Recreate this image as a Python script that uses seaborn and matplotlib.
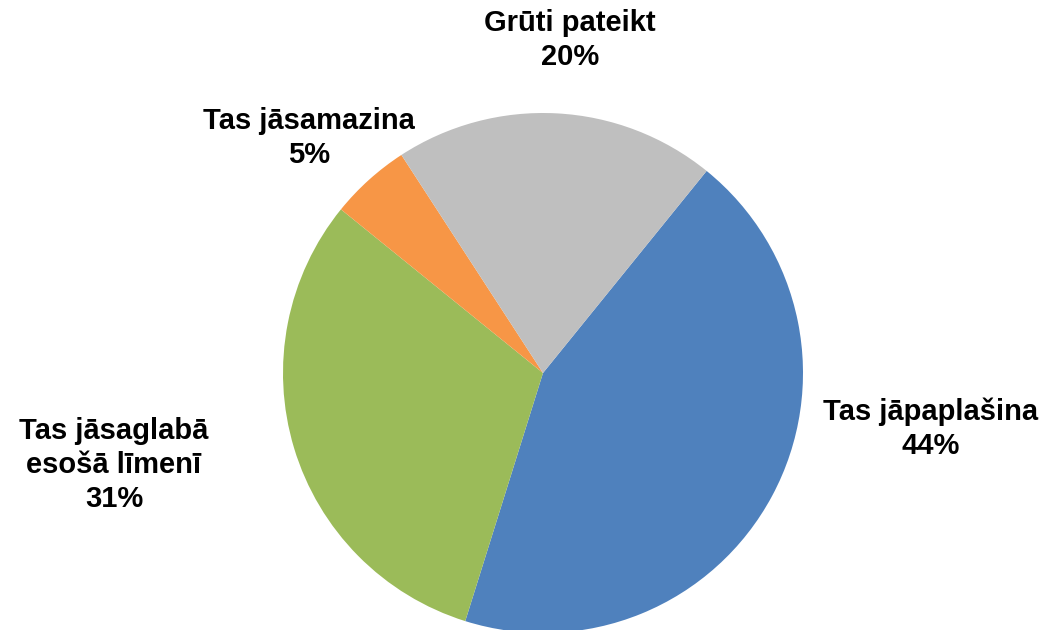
import matplotlib
matplotlib.use("Agg")
import matplotlib.pyplot as plt
import seaborn as sns

# data
labels = ["Tas jāpaplašina", "Tas jāsaglabā\nesošā līmenī", "Tas jāsamazina", "Grūti pateikt"]
shares = [44, 31, 5, 20]
colors = ["#4F81BD", "#9BBB59", "#F79646", "#BFBFBF"]

sns.set_theme(style="white")
plt.rcParams["font.family"] = ["Liberation Sans", "DejaVu Sans"]

fig = plt.figure(figsize=(10.49, 6.30), dpi=100)
ax = fig.add_axes([0, 0, 1, 1])

# blue slice begins ~40 deg clockwise from the top
ax.pie(shares, colors=colors, startangle=51, counterclock=False,
       radius=1, center=(0, 0), wedgeprops=dict(linewidth=0))

# text placement (axes data units, pie radius = 1)
label_pos = [(1.49, -0.215), (-1.65, -0.354), (-0.90, 0.905), (0.105, 1.282)]
for lab, val, (x, y) in zip(labels, shares, label_pos):
    ax.text(x, y, f"{lab}\n{val}%", ha="center", va="center", fontsize=21,
            fontweight="bold", color="#000000", linespacing=1.28)

ax.set_xlim(-543 / 260, (1049 - 543) / 260)
ax.set_ylim((373 - 630) / 260, 373 / 260)
ax.set_aspect("equal")
ax.axis("off")

fig.savefig("out.png", dpi=100, facecolor="white")
